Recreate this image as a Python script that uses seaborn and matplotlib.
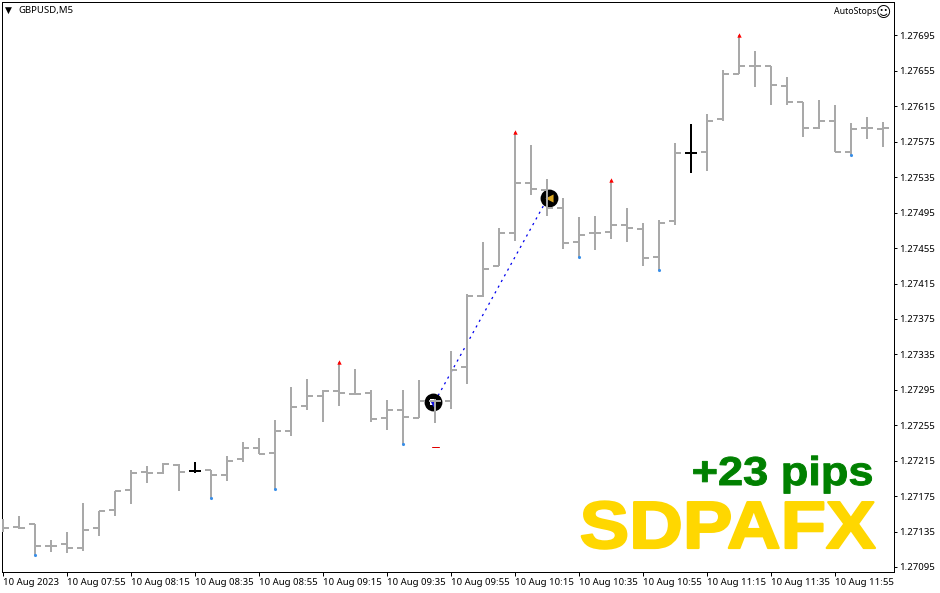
import numpy as np
import pandas as pd
import seaborn as sns
import matplotlib.pyplot as plt
import matplotlib.patheffects as pe
from matplotlib.ticker import FormatStrFormatter
from matplotlib.transforms import Affine2D

# bars from left to right, one every 5 minutes
opens = [1.27139, 1.27140, 1.27144, 1.27119, 1.27121, 1.27116, 1.27139, 1.27159,
         1.27182, 1.27202, 1.27201, 1.27210, 1.27203, 1.27204, 1.27199, 1.27217,
         1.27229, 1.27224, 1.27249, 1.27277, 1.27288, 1.27294, 1.27290, 1.27291,
         1.27263, 1.27272, 1.27263, 1.27282, 1.27282, 1.27321, 1.27401, 1.27435,
         1.27472, 1.27529, 1.27520, 1.27500, 1.27462, 1.27472, 1.27473, 1.27481,
         1.27477, 1.27445, 1.27486, 1.27562, 1.27563, 1.27601, 1.27652, 1.27660,
         1.27660, 1.27638, 1.27620, 1.27591, 1.27598, 1.27563, 1.27590, 1.27589]
highs = [1.27149, 1.27153, 1.27144, 1.27125, 1.27134, 1.27167, 1.27158, 1.27181,
         1.27204, 1.27209, 1.27212, 1.27211, 1.27213, 1.27204, 1.27220, 1.27236,
         1.27241, 1.27261, 1.27298, 1.27307, 1.27295, 1.27326, 1.27319, 1.27295,
         1.27283, 1.27295, 1.27306, 1.27285, 1.27339, 1.27403, 1.27462, 1.27478,
         1.27586, 1.27571, 1.27533, 1.27512, 1.27490, 1.27491, 1.27532, 1.27500,
         1.27483, 1.27487, 1.27574, 1.27595, 1.27606, 1.27656, 1.27696, 1.27678,
         1.27661, 1.27648, 1.27620, 1.27622, 1.27617, 1.27596, 1.27603, 1.27597]
lows = [1.27134, 1.27138, 1.27108, 1.27112, 1.27111, 1.27113, 1.27130, 1.27152,
        1.27166, 1.27190, 1.27200, 1.27181, 1.27201, 1.27173, 1.27192, 1.27213,
        1.27222, 1.27183, 1.27243, 1.27272, 1.27259, 1.27277, 1.27290, 1.27259,
        1.27250, 1.27234, 1.27263, 1.27258, 1.27273, 1.27302, 1.27400, 1.27435,
        1.27463, 1.27515, 1.27491, 1.27454, 1.27445, 1.27453, 1.27465, 1.27462,
        1.27435, 1.27430, 1.27481, 1.27540, 1.27542, 1.27599, 1.27652, 1.27637,
        1.27617, 1.27616, 1.27580, 1.27589, 1.27563, 1.27560, 1.27578, 1.27569]
closes = [1.27139, 1.27139, 1.27119, 1.27119, 1.27116, 1.27137, 1.27158, 1.27181,
          1.27201, 1.27201, 1.27211, 1.27202, 1.27203, 1.27199, 1.27215, 1.27229,
          1.27223, 1.27249, 1.27276, 1.27288, 1.27294, 1.27291, 1.27290, 1.27262,
          1.27272, 1.27264, 1.27282, 1.27282, 1.27317, 1.27401, 1.27431, 1.27472,
          1.27529, 1.27522, 1.27500, 1.27461, 1.27470, 1.27472, 1.27481, 1.27478,
          1.27444, 1.27483, 1.27562, 1.27562, 1.27599, 1.27652, 1.27661, 1.27660,
          1.27639, 1.27620, 1.27590, 1.27598, 1.27564, 1.27589, 1.27590, 1.27591]
black_bars = [12, 43]

fractal_up = [21, 32, 38, 46]
fractal_down = [2, 13, 17, 25, 36, 41, 53]

# the trade: entry and exit of the dashed line
trade_x = [27, 34]
trade_y = [1.27282, 1.27510]
stop_x = [26.8, 27.25]
stop_y = [1.27230, 1.27230]

price_ticks = [1.27095, 1.27135, 1.27175, 1.27215, 1.27255, 1.27295, 1.27335, 1.27375,
               1.27415, 1.27455, 1.27495, 1.27535, 1.27575, 1.27615, 1.27655, 1.27695]
time_ticks = list(range(0, 56, 4))
time_labels = ['10 Aug 2023', '10 Aug 07:55', '10 Aug 08:15', '10 Aug 08:35', '10 Aug 08:55',
               '10 Aug 09:15', '10 Aug 09:35', '10 Aug 09:55', '10 Aug 10:15', '10 Aug 10:35',
               '10 Aug 10:55', '10 Aug 11:15', '10 Aug 11:35', '10 Aug 11:55']


# the MT4 big labels are wider and heavier than any font here
class StretchX(pe.AbstractPathEffect):
    def __init__(self, factor, x0, stroke=0.0):
        super().__init__()
        self.factor = factor
        self.x0 = x0
        self.stroke = stroke

    def draw_path(self, renderer, gc, tpath, affine, rgbFace=None):
        stretch = Affine2D().translate(-self.x0, 0).scale(self.factor, 1).translate(self.x0, 0)
        gc0 = renderer.new_gc()
        gc0.copy_properties(gc)
        gc0.set_foreground(rgbFace)
        gc0.set_linewidth(self.stroke)
        renderer.draw_path(gc0, tpath, affine + stretch, rgbFace)
        gc0.restore()


sns.set_theme(style='ticks')
plt.rcParams['font.family'] = ['Noto Sans', 'DejaVu Sans']

W, H = 940, 593
GREY = '#A9A9A9'
LW = 1.44  # 2 px
tick_half = 6 / 16  # bar spacing is 16 px

df = pd.DataFrame({'bar': range(len(opens)), 'open': opens, 'high': highs, 'low': lows, 'close': closes})
df['color'] = ['black' if b in black_bars else 'grey' for b in df['bar']]
palette = {'grey': GREY, 'black': 'black'}

# each piece of a bar is one short line
wicks = df.melt(id_vars=['bar', 'color'], value_vars=['low', 'high'], value_name='price')
wicks['x'] = wicks['bar']
open_ticks = pd.concat([df.assign(x=df['bar'] - tick_half, price=df['open']),
                        df.assign(x=df['bar'] * 1.0, price=df['open'])])
close_ticks = pd.concat([df.assign(x=df['bar'] * 1.0, price=df['close']),
                         df.assign(x=df['bar'] + tick_half, price=df['close'])])

fig = plt.figure(figsize=(W / 100, H / 100), dpi=100, facecolor='white')
ax = fig.add_axes([2 / W, (H - 572) / H, 892 / W, 570 / H])

# trade line under the bars
sns.lineplot(x=trade_x, y=trade_y, ax=ax, color='#0000ee', lw=0.9, linestyle=(0, (1.8, 3.4)),
             estimator=None, sort=False, zorder=2)
sns.scatterplot(x=[26.85, 34.13], y=[1.27281, 1.27511], ax=ax, color='black', s=165,
                linewidth=0, zorder=3)
sns.scatterplot(x=[26.85], y=[1.27281], ax=ax, color='white', s=20, marker='s', linewidth=0, zorder=4)
sns.scatterplot(x=[26.85], y=[1.27279], ax=ax, color='#1010e0', s=14, marker='v', linewidth=0, zorder=4)
sns.scatterplot(x=[34.13], y=[1.27511], ax=ax, color='#DAA520', s=34, marker='<', linewidth=0, zorder=4)

for part in [wicks, open_ticks, close_ticks]:
    sns.lineplot(data=part, x='x', y='price', hue='color', palette=palette, units='bar',
                 estimator=None, legend=False, ax=ax, lw=LW,
                 solid_capstyle='butt', zorder=5)

# fractal arrows
up = df.loc[fractal_up]
down = df.loc[fractal_down]
sns.scatterplot(x=up['bar'], y=up['high'], ax=ax, color='#ff0000', s=10, marker='^', linewidth=0, zorder=6)
sns.scatterplot(x=down['bar'], y=down['low'], ax=ax, color='#3a8fe8', s=5, marker='o', linewidth=0, zorder=6)
sns.lineplot(x=stop_x, y=stop_y, ax=ax, color='#e00000', lw=0.72, estimator=None, sort=False, zorder=6)

ax.set_xlim(-0.0625, 55.69)
ax.set_ylim(1.270893, 1.277328)
ax.set_xticks(time_ticks)
ax.set_xticklabels(time_labels, ha='left')
ax.set_yticks(price_ticks)
ax.yaxis.set_major_formatter(FormatStrFormatter('%.5f'))
ax.yaxis.tick_right()
ax.tick_params(axis='x', length=3.2, width=0.72, labelsize=6.9, pad=0.9, color='black', labelcolor='black')
ax.tick_params(axis='y', length=2.4, width=0.72, labelsize=6.9, pad=1.2, color='black', labelcolor='black')
ax.set_xlabel('')
ax.set_ylabel('')
for side in ax.spines.values():
    side.set_visible(True)
    side.set_linewidth(0.72)
    side.set_color('black')

# header
fig.text(4.5 / W, 1 - 10.5 / H, '\u25bc', fontsize=6.5, family='DejaVu Sans', va='center', ha='left', color='black')
fig.text(18 / W, 1 - 10 / H, 'GBPUSD,M5', fontsize=6.9, va='center', ha='left', color='black')
fig.text(876 / W, 1 - 12 / H, 'AutoStops', fontsize=6.3, va='center', ha='right', color='black')
fig.text(883.5 / W, 1 - 12 / H, '\u263a', fontsize=10.5, family='DejaVu Sans', va='center', ha='center', color='black')

# big labels
fig.text(873 / W, 1 - 485 / H, '+23 pips', fontsize=29, fontweight='bold', family='Liberation Sans',
         color='#008000', ha='right', va='baseline',
         path_effects=[StretchX(1.12, 873, stroke=0.7)])
fig.text(875.5 / W, 1 - 548 / H, 'SDPAFX', fontsize=48, fontweight='bold', family='Liberation Sans',
         color='#FFD700', ha='right', va='baseline',
         path_effects=[StretchX(1.115, 875.5, stroke=1.6)])

fig.savefig('out.png', dpi=100)
